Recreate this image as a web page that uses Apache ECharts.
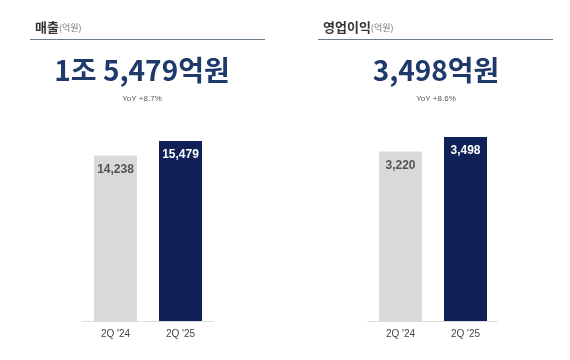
<!DOCTYPE html>
<html><head><meta charset="utf-8">
<script src="https://cdn.jsdelivr.net/npm/echarts@6/dist/echarts.min.js"></script>
<style>html,body{margin:0;padding:0;background:#fff}#c{width:570px;height:360px}</style>
</head><body><div id="c"></div>
<script>
const categories = ["2Q '24", "2Q '25"];
const revenue = [14238, 15479];
const opIncome = [3220, 3498];
const panelTitles = ["매출", "영업이익"];
const headlines = ["1조 5,479억원", "3,498억원"];
const yoy = ["YoY +8.7%", "YoY +8.6%"];

const chart = echarts.init(document.getElementById('c'));
const NAVY = '#0f2157', GRAY = '#d9d9d9', FONT = '"Noto Sans CJK KR","Noto Sans",sans-serif';
function seriesFor(data, idx) {
  return {
    type: 'bar', xAxisIndex: idx, yAxisIndex: idx, barWidth: 43,
    data: data.map((v, i) => ({
      value: v,
      itemStyle: { color: i === 0 ? GRAY : NAVY },
      label: { color: i === 0 ? '#555' : '#fff' }
    })),
    label: { show: true, position: 'insideTop', distance: 8, fontSize: 12, fontWeight: 'bold',
      fontFamily: 'Arial, "Liberation Sans", sans-serif',
      formatter: p => p.value.toLocaleString('en-US') },
    silent: true, animation: false
  };
}
function xAx(idx) {
  return { type: 'category', gridIndex: idx, data: categories,
    axisLine: { lineStyle: { color: '#dddddd', width: 1 } }, axisTick: { show: false },
    axisLabel: { color: '#444', fontSize: 10, margin: 8, fontFamily: 'Arial, "Liberation Sans", sans-serif' } };
}
function yAx(idx, max) {
  return { type: 'value', gridIndex: idx, min: 0, max: max, show: false, splitLine: { show: false } };
}
const titleEls = [];
[[30, 265, 142], [318, 553, 436]].forEach((p, i) => {
  titleEls.push({ type: 'text', left: p[0] + 5, top: 21, style: {
    text: '{a|' + panelTitles[i] + '}{b|(억원)}',
    rich: { a: { fontSize: 13, fontWeight: 'bold', fill: '#333', fontFamily: FONT },
            b: { fontSize: 9, fill: '#777', fontFamily: FONT } } } });
  titleEls.push({ type: 'line', shape: { x1: p[0], y1: 39.5, x2: p[1], y2: 39.5 }, style: { stroke: '#6b7b8c', lineWidth: 1 } });
  titleEls.push({ type: 'text', x: p[2], y: 70, style: { text: headlines[i], fill: '#1f3a6a',
    fontSize: 28, fontWeight: 'bold', fontFamily: FONT, align: 'center', verticalAlign: 'middle' } });
  titleEls.push({ type: 'text', x: p[2], y: 99, style: { text: yoy[i], fill: '#555',
    fontSize: 8, fontFamily: 'Arial, "Liberation Sans", sans-serif', align: 'center', verticalAlign: 'middle' } });
});
chart.setOption({
  animation: false,
  grid: [
    { left: 83, width: 130, top: 120, bottom: 39 },
    { left: 368, width: 130, top: 120, bottom: 39 }
  ],
  xAxis: [xAx(0), xAx(1)],
  yAxis: [yAx(0, 17290), yAx(1, 3821)],
  series: [seriesFor(revenue, 0), seriesFor(opIncome, 1)],
  graphic: titleEls
});
</script></body></html>
